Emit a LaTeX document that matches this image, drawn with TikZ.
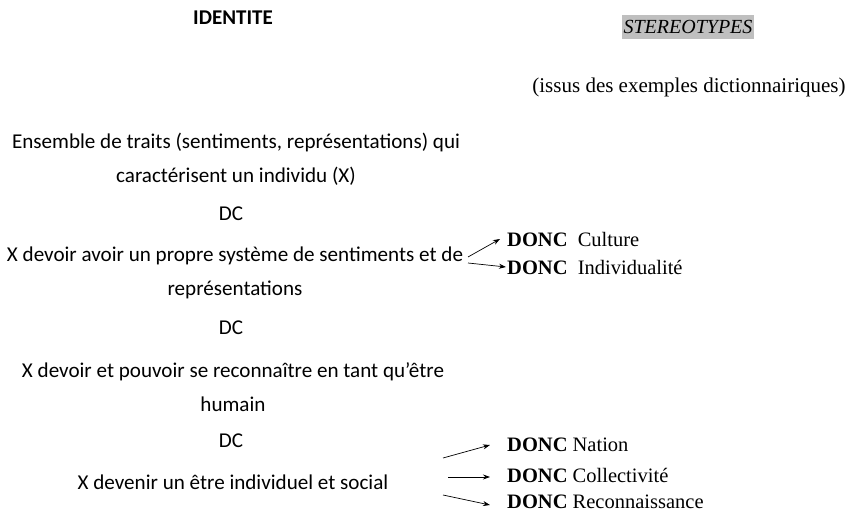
\documentclass[tikz,border=0pt]{standalone}
\usepackage{fontspec}
\setmainfont{Carlito}
\newfontfamily\timesfont{Liberation Serif}
\usetikzlibrary{arrows.meta,positioning}

\begin{document}
\begin{tikzpicture}[
    x=1pt, y=-1pt,
    leftbox/.style={align=center, inner sep=0pt, font=\fontsize{21.1}{34}\selectfont},
    titlebox/.style={inner sep=0pt, font=\fontsize{21}{22}\selectfont\bfseries},
    stereobox/.style={inner xsep=2pt, inner ysep=5pt, fill=gray!50, font=\timesfont\fontsize{20}{22}\selectfont\itshape},
    serifbox/.style={inner sep=0pt, font=\timesfont\fontsize{21}{22}\selectfont},
    doncbox/.style={anchor=west, inner sep=1pt, font=\timesfont\fontsize{20.5}{22}\selectfont},
    arrow/.style={line width=0.7pt,->,>={Stealth[length=7pt,width=5pt]}}
]
\useasboundingbox (0,0) rectangle (849,516);

% Titles
\node[titlebox] (identite) at (233,18) {IDENTITE};
\node[stereobox] (stereo) at (688,27) {STEREOTYPES};
\node[serifbox] (issus) at (689,87) {(issus des exemples dictionnairiques)};

% Left column
\node[leftbox] (ensemble) at (236,159) {Ensemble de traits (sentiments, représentations) qui\\caractérisent un individu (X)};
\node[leftbox] (dc1) at (231,214) {DC};
\node[leftbox] (systeme) at (235,273) {X devoir avoir un propre système de sentiments et de\\représentations};
\node[leftbox] (dc2) at (231,328) {DC};
\node[leftbox] (reconnaitre) at (233,387) {X devoir et pouvoir se reconnaître en tant qu’être\\humain};
\node[leftbox] (dc3) at (231,441) {DC};
\node[leftbox] (devenir) at (233,482) {X devenir un être individuel et social};

% Right column
\node[doncbox] (culture) at (506,239) {\textbf{DONC}~~Culture};
\node[doncbox] (individualite) at (506,267) {\textbf{DONC}~~Individualité};
\node[doncbox] (nation) at (506,445) {\textbf{DONC} Nation};
\node[doncbox] (collectivite) at (506,475) {\textbf{DONC} Collectivité};
\node[doncbox] (reconnaissance) at (506,502) {\textbf{DONC} Reconnaissance};

% Arrow starts
\coordinate (s1) at (468,257);
\coordinate (s2) at (468,263);
\coordinate (s3) at (443,458);
\coordinate (s4) at (448,477);
\coordinate (s5) at (443,495);

% Arrows
\draw[arrow] (s1) -- ([xshift=-6pt]culture.west);
\draw[arrow] (s2) -- (individualite.west);
\draw[arrow] (s3) -- ([xshift=-16pt]nation.west);
\draw[arrow] (s4) -- ([xshift=-16pt,yshift=-2pt]collectivite.west);
\draw[arrow] (s5) -- ([xshift=-16pt,yshift=-3pt]reconnaissance.west);

\end{tikzpicture}
\end{document}
